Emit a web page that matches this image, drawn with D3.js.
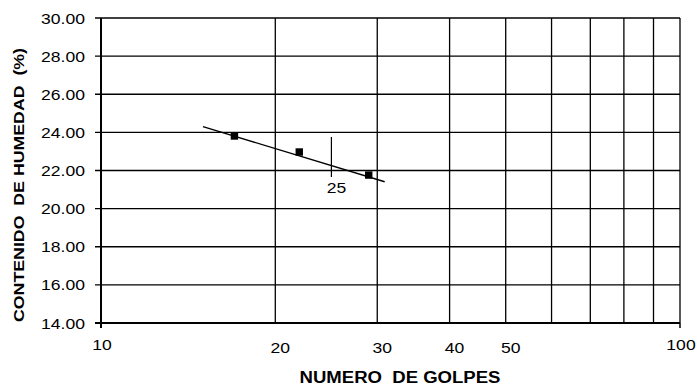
<!DOCTYPE html>
<html>
<head>
<meta charset="utf-8">
<script src="https://cdn.jsdelivr.net/npm/d3@7"></script>
<style>
  html, body { margin: 0; padding: 0; background: #fff; }
  svg { display: block; }
</style>
</head>
<body>
<svg id="chart" width="697" height="389"></svg>
<script>
// ---- data ----
const golpes = [17, 22, 29];
const humedad = [23.81, 22.97, 21.76];
const trendGolpes = [15, 30.9];
const trendHumedad = [24.30, 21.41];
const markGolpes = [25, 25];
const markHumedad = [21.66, 23.76];
const markLabel = "25";
const yTicks = [14, 16, 18, 20, 22, 24, 26, 28, 30];
const xGrid = [20, 30, 40, 50, 60, 70, 80, 90, 100];
const xMajorLabels = [10, 100];
const xMinorLabels = [20, 30, 40, 50];
const xTitle = "NUMERO  DE GOLPES";
const yTitle = "CONTENIDO  DE HUMEDAD  (%)";

// ---- layout ----
const W = 697, H = 389;
const L = 101, R = 680, T = 18, B = 323;
const SX = 1.17; // horizontal text stretch
const svg = d3.select("#chart");
svg.append("rect").attr("width", W).attr("height", H).attr("fill", "#fff");

const x = d3.scaleLog().domain([10, 100]).range([L, R]);
const y = d3.scaleLinear().domain([14, 30]).range([B, T]);

function addText(x0, y0, str, opts) {
  const g = svg.append("g")
    .attr("transform", `translate(${x0},${y0})` + (opts.rotate ? ` rotate(${opts.rotate})` : "") + ` scale(${opts.sx || SX},1)`);
  g.append("text")
    .attr("x", 0).attr("y", 0)
    .attr("text-anchor", opts.anchor || "middle")
    .attr("font-family", "Arial, 'Liberation Sans', sans-serif")
    .attr("font-size", opts.size || 15)
    .attr("font-weight", opts.bold ? "bold" : "normal")
    .attr("fill", "#000")
    .style("white-space", "pre")
    .text(str);
  return g;
}

// horizontal gridlines (with left tick extension)
svg.append("g").selectAll("line").data(yTicks).join("line")
  .attr("x1", L - 6).attr("x2", R)
  .attr("y1", d => y(d)).attr("y2", d => y(d))
  .attr("stroke", "#000").attr("stroke-width", 1.3);

// vertical gridlines
svg.append("g").selectAll("line").data(xGrid).join("line")
  .attr("x1", d => x(d)).attr("x2", d => x(d))
  .attr("y1", T).attr("y2", B)
  .attr("stroke", "#000").attr("stroke-width", 1.3);

// axes
svg.append("line").attr("x1", L).attr("x2", L).attr("y1", T).attr("y2", B + 5)
  .attr("stroke", "#000").attr("stroke-width", 2);
svg.append("line").attr("x1", L - 6).attr("x2", R).attr("y1", B).attr("y2", B)
  .attr("stroke", "#000").attr("stroke-width", 2);
svg.append("line").attr("x1", R).attr("x2", R).attr("y1", B).attr("y2", B + 5)
  .attr("stroke", "#000").attr("stroke-width", 1.5);

// y tick labels
yTicks.forEach(d => addText(85, y(d) + 5.5, d.toFixed(2), { anchor: "end", size: 15 }));

// x tick labels
xMajorLabels.forEach(d => addText(x(d) + 1, 350, String(d), { size: 15 }));
xMinorLabels.forEach(d => addText(x(d) + 5, 353, String(d), { size: 15 }));

// trend line
const line = d3.line().x(d => x(d[0])).y(d => y(d[1]));
svg.append("path")
  .attr("d", line(d3.zip(trendGolpes, trendHumedad)))
  .attr("fill", "none").attr("stroke", "#000").attr("stroke-width", 1.4);

// 25 marker
svg.append("path")
  .attr("d", line(d3.zip(markGolpes, markHumedad)))
  .attr("fill", "none").attr("stroke", "#000").attr("stroke-width", 1.2);
addText(x(25) + 5, y(markHumedad[0]) + 16, markLabel, { size: 15 });

// points
svg.append("g").selectAll("rect").data(d3.zip(golpes, humedad)).join("rect")
  .attr("x", d => x(d[0]) - 3.7).attr("y", d => y(d[1]) - 3.7)
  .attr("width", 7.4).attr("height", 7.4).attr("fill", "#000");

// titles
addText(400, 383, xTitle, { size: 16, bold: true, sx: 1.16 });
addText(24, 185, yTitle, { size: 15.5, bold: true, rotate: -90, sx: 1.145 });
</script>
</body>
</html>
